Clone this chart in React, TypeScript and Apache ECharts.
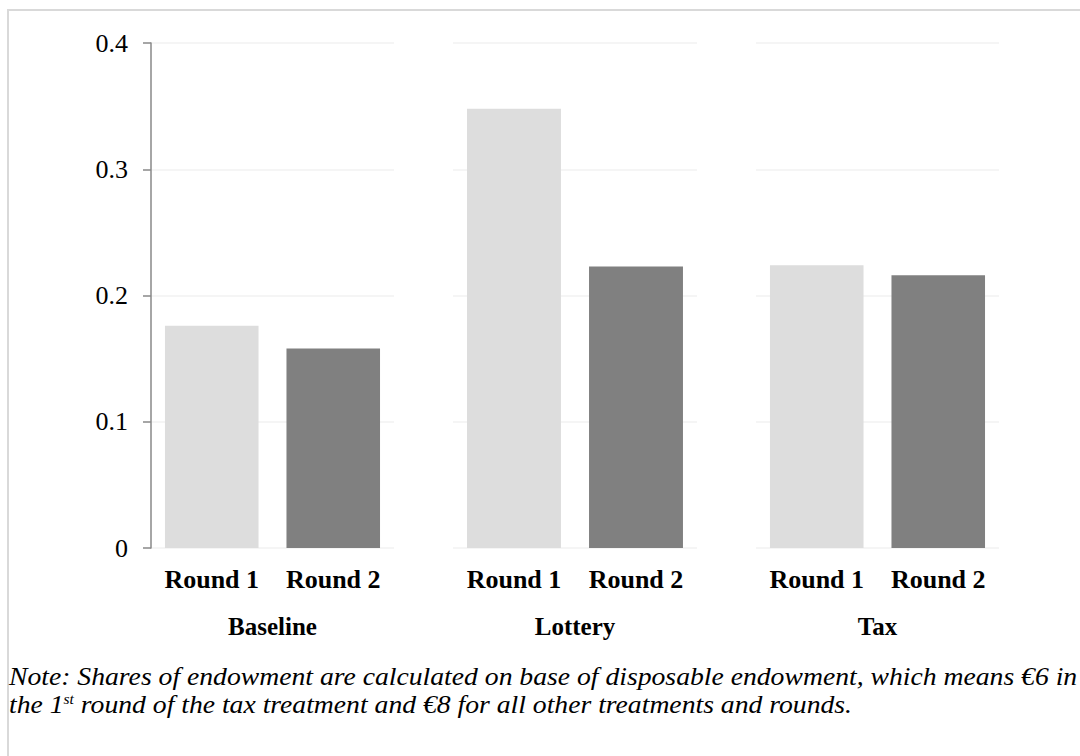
import React, { useEffect, useRef } from "react";
import * as echarts from "echarts";

const treatments = ["Baseline", "Lottery", "Tax"];
const rounds = ["Round 1", "Round 2"];
const baselineValues = [0.176, 0.158];
const lotteryValues = [0.348, 0.223];
const taxValues = [0.224, 0.216];
const yTicks = [0, 0.1, 0.2, 0.3, 0.4];
const roundColors = ["#DDDDDD", "#808080"];
const noteLine1 =
  "Note: Shares of endowment are calculated on base of disposable endowment, which means €6 in";
const noteLine2a = "the 1";
const noteSup = "st";
const noteLine2b = " round of the tax treatment and €8 for all other treatments and rounds.";

const FONT = "'Liberation Serif', 'Times New Roman', serif";
const NOTE_SIZE = 25;

function measure(text: string, font: string): number {
  const c = document.createElement("canvas").getContext("2d");
  if (!c) return text.length * 9;
  c.font = font;
  return c.measureText(text).width;
}

export default function App() {
  const ref = useRef<HTMLDivElement>(null);
  useEffect(() => {
    if (!ref.current) return;
    const chart = echarts.init(ref.current, undefined, { renderer: "svg" });
    const panelValues = [baselineValues, lotteryValues, taxValues];
    const lefts = [151, 453, 756];
    const widths = [243, 244, 243];
    const grids = lefts.map((l, i) => ({
      left: l,
      top: 43,
      width: widths[i],
      height: 505,
      containLabel: false,
    }));
    const xAxes = treatments.map((t, i) => ({
      type: "category",
      gridIndex: i,
      data: rounds,
      axisLine: { show: false },
      axisTick: { show: false },
      axisLabel: {
        interval: 0,
        hideOverlap: false,
        fontFamily: FONT,
        fontSize: 26,
        fontWeight: "bold",
        color: "#000",
        margin: 18,
      },
      name: t,
      nameLocation: "middle",
      nameGap: 66,
      nameTextStyle: {
        fontFamily: FONT,
        fontSize: 25,
        fontWeight: "bold",
        color: "#000",
      },
    }));
    const yAxes = treatments.map((_, i) => ({
      type: "value",
      gridIndex: i,
      min: yTicks[0],
      max: yTicks[yTicks.length - 1],
      interval: 0.1,
      splitLine: { show: true, lineStyle: { color: "#F2F2F2", width: 1.5 } },
      axisLine: { show: i === 0, lineStyle: { color: "#888888", width: 1.5 } },
      axisTick: { show: i === 0, length: 8, lineStyle: { color: "#888888", width: 1.5 } },
      axisLabel: {
        show: i === 0,
        fontFamily: FONT,
        fontSize: 26,
        color: "#000",
        margin: 23,
        formatter: (v: number) => (v === 0 ? "0" : v.toFixed(1)),
      },
    }));
    const series = panelValues.map((vals, i) => ({
      type: "bar",
      xAxisIndex: i,
      yAxisIndex: i,
      barWidth: "77%",
      data: vals.map((v, j) => ({ value: v, itemStyle: { color: roundColors[j] } })),
    }));

    // the note's first line runs to the right edge of the page
    const noteFont = `italic ${NOTE_SIZE}px ${FONT}`;
    const natural = measure(noteLine1, noteFont);
    const noteScale = Math.min(1.25, Math.max(0.85, (1078 - 9) / natural));

    chart.setOption({
      animation: false,
      backgroundColor: "#FFFFFF",
      grid: grids,
      xAxis: xAxes,
      yAxis: yAxes,
      series,
      graphic: [
        {
          type: "rect",
          shape: { x: 8, y: 10, width: 1200, height: 900 },
          style: { fill: "none", stroke: "#D9D9D9", lineWidth: 2 },
          silent: true,
        },
        {
          type: "text",
          x: 9,
          y: 677,
          scaleX: noteScale,
          style: {
            text: noteLine1,
            fontFamily: FONT,
            fontStyle: "italic",
            fontSize: NOTE_SIZE,
            fill: "#000",
            verticalAlign: "middle",
          },
        },
        {
          type: "text",
          x: 9,
          y: 705,
          scaleX: noteScale,
          style: {
            text: noteLine2a + "{sup|" + noteSup + "}" + noteLine2b,
            fontFamily: FONT,
            fontStyle: "italic",
            fontSize: NOTE_SIZE,
            fill: "#000",
            verticalAlign: "middle",
            rich: {
              sup: {
                fontFamily: FONT,
                fontStyle: "italic",
                fontSize: 14,
                fill: "#000",
                verticalAlign: "top",
                padding: [0, 0, 9, 0],
              },
            },
          },
        },
      ],
    });
    return () => chart.dispose();
  }, []);
  return (
    <div
      ref={ref}
      style={{ position: "absolute", left: 0, top: 0, width: 1080, height: 756 }}
    />
  );
}
